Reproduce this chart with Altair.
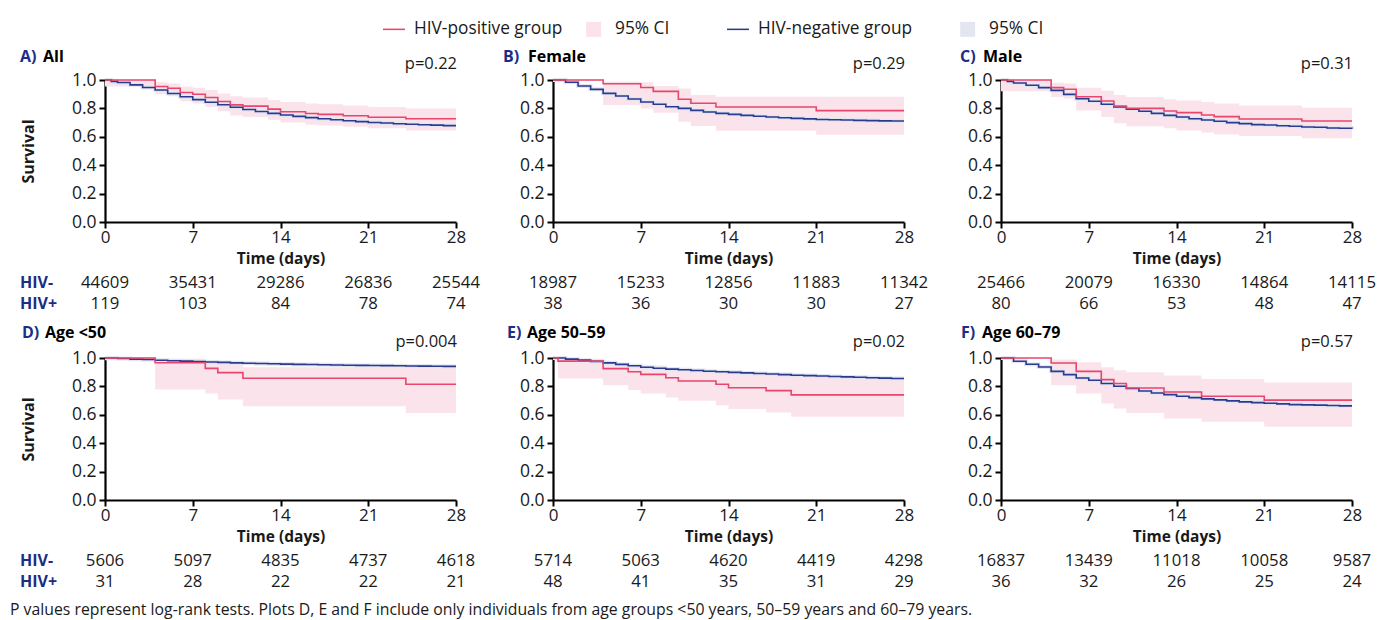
import altair as alt
import pandas as pd

# ---------------- data ----------------
day_ticks = [0, 7, 14, 21, 28]
surv_ticks = [0.0, 0.2, 0.4, 0.6, 0.8, 1.0]

# A) All
a_pos_t = [0, 4, 5, 6, 7, 8, 9, 10, 11, 13, 14, 16, 17, 19, 21, 24, 28]
a_pos_s = [1.0, 0.954, 0.942, 0.912, 0.900, 0.877, 0.849, 0.825, 0.816, 0.795, 0.776, 0.764, 0.758, 0.748, 0.738, 0.727, 0.727]
a_pos_lo = [0.955, 0.90, 0.885, 0.85, 0.835, 0.81, 0.78, 0.75, 0.74, 0.72, 0.70, 0.685, 0.68, 0.67, 0.66, 0.645, 0.645]
a_pos_hi = [1.0, 0.985, 0.975, 0.955, 0.945, 0.93, 0.905, 0.885, 0.877, 0.86, 0.845, 0.835, 0.83, 0.82, 0.81, 0.80, 0.80]
a_neg_t = [0, 0.5, 1, 2, 3, 4, 5, 6, 7, 8, 9, 10, 11, 12, 13, 14, 15, 16, 17, 18, 19, 20, 21, 22, 23, 24, 25, 26, 27, 28]
a_neg_s = [1.0, 0.99, 0.982, 0.966, 0.947, 0.93, 0.905, 0.882, 0.862, 0.843, 0.826, 0.808, 0.792, 0.778, 0.765, 0.754, 0.744, 0.735, 0.727, 0.72, 0.713, 0.707, 0.701, 0.697, 0.692, 0.688, 0.685, 0.682, 0.679, 0.679]
a_risk_neg = ["44609", "35431", "29286", "26836", "25544"]
a_risk_pos = ["119", "103", "84", "78", "74"]

# B) Female
b_pos_t = [0, 4, 7, 8, 10, 11, 13, 21, 28]
b_pos_s = [1.0, 0.974, 0.947, 0.92, 0.864, 0.836, 0.81, 0.784, 0.784]
b_pos_lo = [1.0, 0.824, 0.80, 0.77, 0.706, 0.676, 0.643, 0.615, 0.615]
b_pos_hi = [1.0, 0.99, 0.985, 0.958, 0.94, 0.894, 0.882, 0.882, 0.882]
b_neg_t = list(range(0, 29))
b_neg_s = [1.0, 0.984, 0.958, 0.934, 0.906, 0.887, 0.866, 0.845, 0.829, 0.812, 0.80, 0.786, 0.775, 0.765, 0.758, 0.751, 0.745, 0.739, 0.734, 0.73, 0.726, 0.722, 0.72, 0.718, 0.716, 0.714, 0.712, 0.711, 0.711]
b_risk_neg = ["18987", "15233", "12856", "11883", "11342"]
b_risk_pos = ["38", "36", "30", "30", "27"]

# C) Male
c_pos_t = [0, 4, 5, 6, 8, 9, 10, 13, 14, 16, 17, 19, 24, 28]
c_pos_s = [1.0, 0.946, 0.935, 0.882, 0.852, 0.817, 0.80, 0.782, 0.77, 0.754, 0.742, 0.725, 0.711, 0.711]
c_pos_lo = [0.92, 0.88, 0.87, 0.785, 0.74, 0.695, 0.675, 0.66, 0.645, 0.63, 0.617, 0.605, 0.59, 0.59]
c_pos_hi = [1.0, 0.98, 0.975, 0.945, 0.925, 0.895, 0.88, 0.865, 0.855, 0.845, 0.835, 0.82, 0.805, 0.805]
c_neg_t = [0, 0.5, 1, 2, 3, 4, 5, 6, 7, 8, 9, 10, 11, 12, 13, 14, 15, 16, 17, 18, 19, 20, 21, 22, 23, 24, 25, 26, 27, 28]
c_neg_s = [1.0, 0.99, 0.979, 0.963, 0.946, 0.927, 0.899, 0.868, 0.85, 0.829, 0.81, 0.794, 0.78, 0.765, 0.751, 0.739, 0.727, 0.718, 0.709, 0.70, 0.693, 0.686, 0.683, 0.678, 0.674, 0.669, 0.667, 0.662, 0.66, 0.657]
c_risk_neg = ["25466", "20079", "16330", "14864", "14115"]
c_risk_pos = ["80", "66", "53", "48", "47"]

# D) Age <50
d_pos_t = [0, 4, 8, 9, 11, 24, 28]
d_pos_s = [1.0, 0.967, 0.927, 0.897, 0.857, 0.815, 0.815]
d_pos_lo = [0.985, 0.778, 0.75, 0.708, 0.66, 0.613, 0.613]
d_pos_hi = [1.0, 0.995, 0.97, 0.96, 0.935, 0.93, 0.93]
d_neg_t = list(range(0, 29))
d_neg_s = [1.0, 0.996, 0.992, 0.989, 0.984, 0.981, 0.978, 0.975, 0.972, 0.969, 0.966, 0.963, 0.961, 0.959, 0.957, 0.955, 0.954, 0.952, 0.951, 0.949, 0.948, 0.947, 0.946, 0.945, 0.944, 0.943, 0.942, 0.941, 0.941]
d_risk_neg = ["5606", "5097", "4835", "4737", "4618"]
d_risk_pos = ["31", "28", "22", "22", "21"]

# E) Age 50-59
e_pos_t = [0, 0.4, 4, 6, 7, 9, 10, 13, 14, 17, 19, 28]
e_pos_s = [1.0, 0.978, 0.925, 0.903, 0.885, 0.861, 0.838, 0.815, 0.791, 0.77, 0.74, 0.74]
e_pos_lo = [1.0, 0.855, 0.808, 0.775, 0.75, 0.722, 0.699, 0.668, 0.64, 0.617, 0.586, 0.586]
e_pos_hi = [1.0, 0.995, 0.96, 0.955, 0.948, 0.936, 0.918, 0.905, 0.895, 0.89, 0.866, 0.866]
e_neg_t = list(range(0, 29))
e_neg_s = [1.0, 0.992, 0.985, 0.976, 0.966, 0.955, 0.945, 0.935, 0.928, 0.922, 0.917, 0.912, 0.907, 0.903, 0.899, 0.895, 0.891, 0.887, 0.883, 0.879, 0.876, 0.873, 0.87, 0.867, 0.864, 0.861, 0.858, 0.856, 0.856]
e_risk_neg = ["5714", "5063", "4620", "4419", "4298"]
e_risk_pos = ["48", "41", "35", "31", "29"]

# F) Age 60-79
f_pos_t = [0, 4, 6, 8, 9, 10, 13, 16, 21, 28]
f_pos_s = [1.0, 0.965, 0.906, 0.848, 0.82, 0.789, 0.761, 0.731, 0.703, 0.703]
f_pos_lo = [1.0, 0.808, 0.75, 0.679, 0.644, 0.613, 0.574, 0.551, 0.515, 0.515]
f_pos_hi = [1.0, 0.99, 0.97, 0.935, 0.913, 0.90, 0.876, 0.852, 0.827, 0.827]
f_neg_t = list(range(0, 29))
f_neg_s = [1.0, 0.977, 0.956, 0.937, 0.906, 0.883, 0.859, 0.843, 0.82, 0.801, 0.785, 0.768, 0.754, 0.742, 0.731, 0.721, 0.712, 0.705, 0.698, 0.691, 0.686, 0.681, 0.677, 0.672, 0.67, 0.668, 0.665, 0.663, 0.663]
f_risk_neg = ["16837", "13439", "11018", "10058", "9587"]
f_risk_pos = ["36", "32", "26", "25", "24"]

panel_letters = ["A)", "B)", "C)", "D)", "E)", "F)"]
panel_names = ["All", "Female", "Male", "Age <50", "Age 50\u201359", "Age 60\u201379"]
p_values = ["p=0.22", "p=0.29", "p=0.31", "p=0.004", "p=0.02", "p=0.57"]
row_labels = ["HIV-", "HIV+"]
legend_pos_items = ["HIV-positive group", "95% CI"]
legend_neg_items = ["HIV-negative group", "95% CI"]
footnote = ("P values represent log-rank tests. Plots D, E and F include only individuals "
            "from age groups <50 years, 50\u201359 years and 60\u201379 years.")

# ---------------- styling / layout ----------------
FONT = "Open Sans"
RED = "#e8466d"
PINK = "#fbe3eb"
NAVY = "#2b3a8f"
LAV = "#e3e6f1"
DARKBLUE = "#1b2d85"
INK = "#1a1a1a"
W, H = 351, 142
ROW1, ROW2 = H + 65.5, H + 86.5

# per panel: x of the letter (relative to plot), gap to name, title baseline
title_pos = [(-85, 23, -18), (-50, 25, -18), (-41, 23, -18),
             (-83, 23, -20.5), (-46, 20, -20.5), (-40, 21, -20.5)]

LINE_PATH = "M-1,-0.07L1,-0.07L1,0.07L-1,0.07Z"
SQ_PATH = "M-0.8,-0.68L0.56,-0.68L0.56,0.68L-0.8,0.68Z"


def legend_layer(items, colors, lx, pad):
    leg = alt.Legend(orient="none", legendX=lx, legendY=-62, direction="horizontal",
                     columns=2, title=None, labelFont=FONT, labelFontSize=17.3,
                     labelColor=INK, symbolSize=484, symbolStrokeWidth=0,
                     symbolOpacity=1, labelOffset=9, columnPadding=pad, labelLimit=300)
    ldf = pd.DataFrame({"item": items})
    return alt.Chart(ldf).mark_point(filled=True, opacity=0).encode(
        x=alt.value(0), y=alt.value(0),
        color=alt.Color("item:N", scale=alt.Scale(domain=items, range=colors), legend=leg),
        shape=alt.Shape("item:N", scale=alt.Scale(domain=items, range=[LINE_PATH, SQ_PATH]),
                        legend=leg))


def make_panel(i, pos_t, pos_s, pos_lo, pos_hi, neg_t, neg_s, risk_neg, risk_pos):
    first_col = i % 3 == 0
    xsc = alt.Scale(domain=[0, 28], nice=False, zero=False)
    ysc = alt.Scale(domain=[0, 1], nice=False, zero=False)
    xax = alt.Axis(values=day_ticks, title="Time (days)", labelFlush=False, labelOverlap=False,
                   labelPadding=1, titlePadding=6, titleFontSize=15.5, labelFontSize=17, grid=False)
    if first_col:
        yax = alt.Axis(values=surv_ticks, format=".1f", title="Survival", labelPadding=3,
                       titlePadding=35, grid=False)
    else:
        yax = alt.Axis(values=surv_ticks, format=".1f", title=None, labelPadding=3, grid=False)

    X = alt.X("t:Q", scale=xsc, axis=xax)

    pos = pd.DataFrame({"t": pos_t, "s": pos_s, "lo": pos_lo, "hi": pos_hi})
    neg = pd.DataFrame({"t": neg_t, "s": neg_s})

    band = alt.Chart(pos).mark_area(interpolate="step-after", color=PINK, opacity=1).encode(
        x=X, y=alt.Y("lo:Q", scale=ysc, axis=yax), y2="hi:Q")
    halo = alt.Chart(neg).mark_line(interpolate="step-after", color=LAV, strokeWidth=4).encode(
        x=X, y=alt.Y("s:Q", scale=ysc, axis=yax))
    nline = alt.Chart(neg).mark_line(interpolate="step-after", color=NAVY, strokeWidth=1.6).encode(
        x=X, y=alt.Y("s:Q", scale=ysc, axis=yax))
    pline = alt.Chart(pos).mark_line(interpolate="step-after", color=RED, strokeWidth=1.6).encode(
        x=X, y=alt.Y("s:Q", scale=ysc, axis=yax))

    risk = pd.DataFrame({"t": day_ticks, "neg": risk_neg, "pos": risk_pos})
    rneg = alt.Chart(risk).mark_text(font=FONT, fontSize=16.8, color=INK, align="center",
                                     baseline="alphabetic").encode(
        x=X, y=alt.value(ROW1), text="neg:N")
    rpos = alt.Chart(risk).mark_text(font=FONT, fontSize=16.8, color=INK, align="center",
                                     baseline="alphabetic").encode(
        x=X, y=alt.value(ROW2), text="pos:N")

    lx, gap, ty = title_pos[i]
    tdf = pd.DataFrame({"letter": [panel_letters[i]], "name": [panel_names[i]], "p": [p_values[i]]})
    t1 = alt.Chart(tdf).mark_text(font=FONT, fontSize=16, fontWeight="bold", color=DARKBLUE,
                                  align="left", baseline="alphabetic").encode(
        x=alt.value(lx), y=alt.value(ty), text="letter:N")
    t2 = alt.Chart(tdf).mark_text(font=FONT, fontSize=16, fontWeight="bold", color="#000000",
                                  align="left", baseline="alphabetic").encode(
        x=alt.value(lx + gap), y=alt.value(ty), text="name:N")
    t3 = alt.Chart(tdf).mark_text(font=FONT, fontSize=16.5, color=INK,
                                  align="right", baseline="alphabetic").encode(
        x=alt.value(W + 1), y=alt.value(-11), text="p:N")

    layers = [band, halo, nline, pline, rneg, rpos, t1, t2, t3]

    if first_col:
        ldf = pd.DataFrame({"lab": row_labels})
        rl1 = alt.Chart(ldf).transform_filter(alt.datum.lab == "HIV-").mark_text(
            font=FONT, fontSize=16, fontWeight="bold", color=DARKBLUE, align="left",
            baseline="alphabetic").encode(x=alt.value(-85), y=alt.value(ROW1), text="lab:N")
        rl2 = alt.Chart(ldf).transform_filter(alt.datum.lab == "HIV+").mark_text(
            font=FONT, fontSize=16, fontWeight="bold", color=DARKBLUE, align="left",
            baseline="alphabetic").encode(x=alt.value(-85), y=alt.value(ROW2), text="lab:N")
        layers += [rl1, rl2]

    if i == 0:
        layers.append(legend_layer(legend_pos_items, [RED, PINK], 278, 21))
    if i == 1:
        layers.append(legend_layer(legend_neg_items, [NAVY, LAV], 174, 45))

    if i == 3:
        fdf = pd.DataFrame({"note": [footnote]})
        foot = alt.Chart(fdf).mark_text(font=FONT, fontSize=15.8, color=INK, align="left",
                                        baseline="alphabetic").encode(
            x=alt.value(-95), y=alt.value(H + 114.5), text="note:N")
        layers.append(foot)

    return alt.layer(*layers).properties(width=W, height=H)


panels = [
    make_panel(0, a_pos_t, a_pos_s, a_pos_lo, a_pos_hi, a_neg_t, a_neg_s, a_risk_neg, a_risk_pos),
    make_panel(1, b_pos_t, b_pos_s, b_pos_lo, b_pos_hi, b_neg_t, b_neg_s, b_risk_neg, b_risk_pos),
    make_panel(2, c_pos_t, c_pos_s, c_pos_lo, c_pos_hi, c_neg_t, c_neg_s, c_risk_neg, c_risk_pos),
    make_panel(3, d_pos_t, d_pos_s, d_pos_lo, d_pos_hi, d_neg_t, d_neg_s, d_risk_neg, d_risk_pos),
    make_panel(4, e_pos_t, e_pos_s, e_pos_lo, e_pos_hi, e_neg_t, e_neg_s, e_risk_neg, e_risk_pos),
    make_panel(5, f_pos_t, f_pos_s, f_pos_lo, f_pos_hi, f_neg_t, f_neg_s, f_risk_neg, f_risk_pos),
]

chart = alt.concat(*panels, columns=3, spacing={"row": 136, "column": 97}, bounds="flush").resolve_scale(
    color="independent", shape="independent"
).properties(
    padding={"left": 2, "top": 10, "right": 2, "bottom": 6}
).configure_view(strokeWidth=0).configure_axis(
    domainColor="#000000", domainWidth=2.2, tickColor="#000000", tickWidth=2, tickSize=6,
    labelFont=FONT, labelFontSize=17.5, labelColor=INK,
    titleFont=FONT, titleFontSize=16, titleFontWeight="bold", titleColor=INK,
).configure_legend(symbolStrokeWidth=0)

chart.save("out.html", embed_options={"renderer": "svg", "actions": False})
